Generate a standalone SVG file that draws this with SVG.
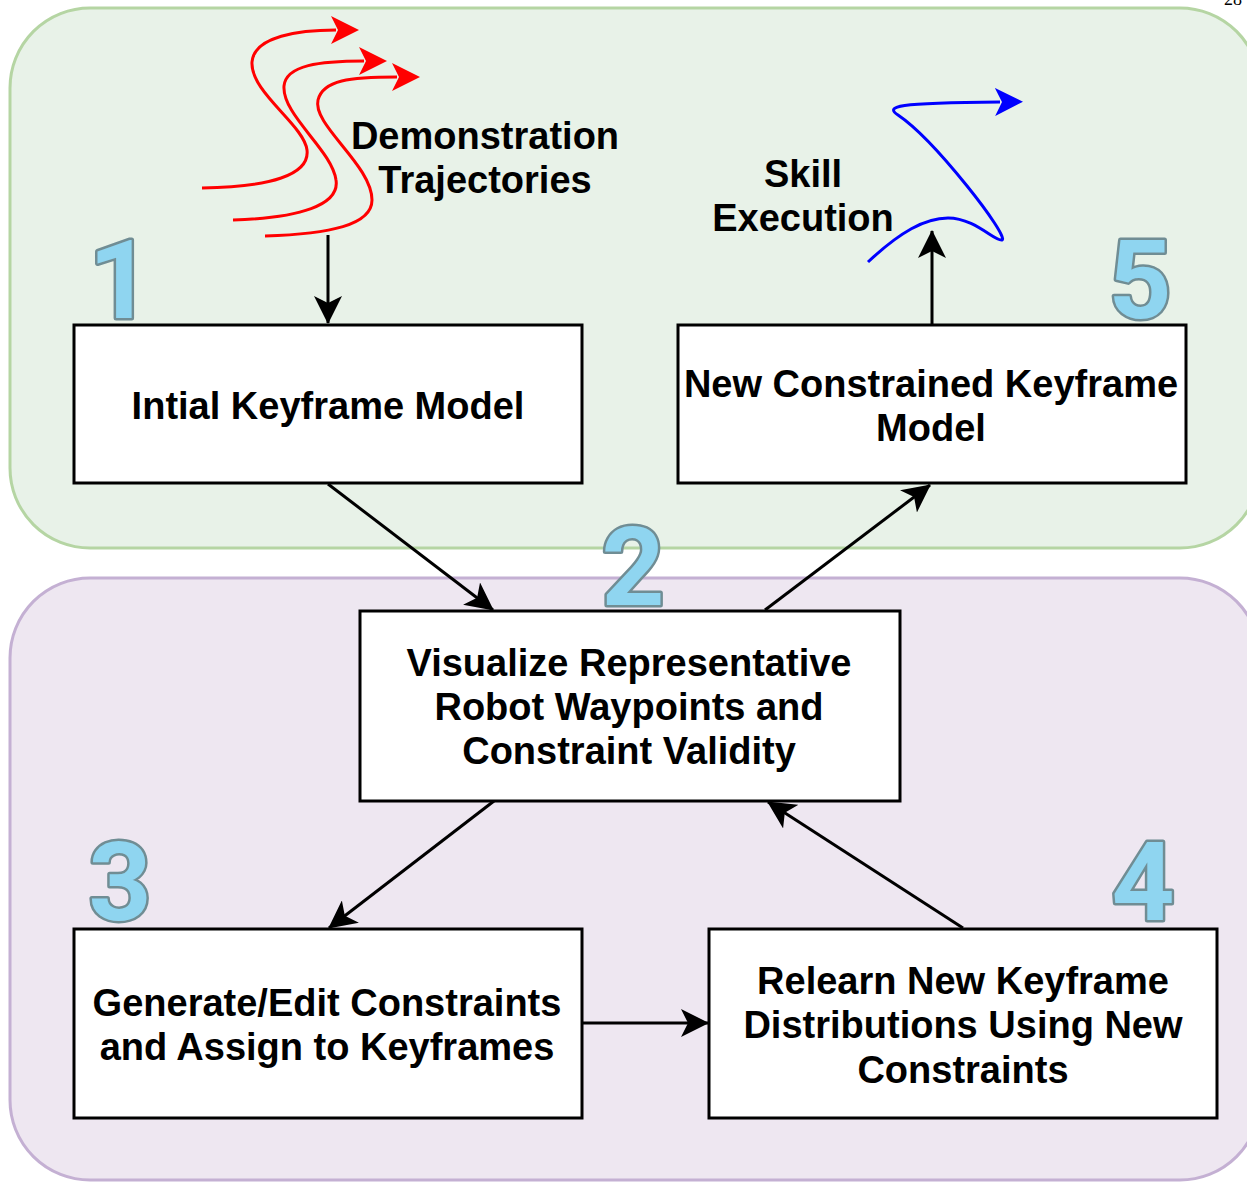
<svg xmlns="http://www.w3.org/2000/svg" width="1247" height="1182" viewBox="0 0 1247 1182">
<defs>
<style>
.box{fill:#fff;stroke:#000;stroke-width:3}
.lbl{font-family:"Liberation Sans",Arial,sans-serif;font-weight:bold;font-size:38px;fill:#000;text-anchor:middle}
.num{font-family:"Roboto","Noto Sans",sans-serif;font-weight:bold;font-size:110px;fill:#8fd5f0;stroke:#708d94;stroke-width:5;stroke-linejoin:round;text-anchor:middle;paint-order:stroke}
.edge{fill:none;stroke:#000;stroke-width:3}
.red{fill:none;stroke:#ff0000;stroke-width:3}
.blue{fill:none;stroke:#0000ff;stroke-width:3}
</style>
<marker id="ab" markerUnits="userSpaceOnUse" viewBox="0 0 28 28" markerWidth="28" markerHeight="28" refX="27" refY="14" orient="auto"><path d="M0,0 L28,14 L0,28 L7,14 Z" fill="#000"/></marker>
<marker id="ar" markerUnits="userSpaceOnUse" viewBox="0 0 28 28" markerWidth="28" markerHeight="28" refX="5" refY="14" orient="auto"><path d="M0,0 L28,14 L0,28 L7,14 Z" fill="#ff0000"/></marker>
<marker id="abl" markerUnits="userSpaceOnUse" viewBox="0 0 28 28" markerWidth="28" markerHeight="28" refX="5" refY="14" orient="auto"><path d="M0,0 L28,14 L0,28 L7,14 Z" fill="#0000ff"/></marker>
</defs>
<rect width="1247" height="1182" fill="#fff"/>
<text x="1224" y="5" font-family="Liberation Serif,serif" font-size="18" fill="#000">28</text>
<g id="container-top"><rect x="10" y="8" width="1250" height="540" rx="80" fill="#e8f2e8" stroke="#b5d5a3" stroke-width="3"/></g>
<g id="container-bottom"><rect x="10" y="578" width="1250" height="602" rx="80" fill="#eee7f1" stroke="#c4b0d3" stroke-width="3"/></g>

<g id="demo-trajectories">
<path class="red" d="M202,188 C270,187 310,175 307,150 C304,125 250,92 252,62 C254,36 300,30 336,30" marker-end="url(#ar)"/>
<path class="red" d="M233,220 C300,218 340,205 336,180 C332,150 282,115 284,86 C286,65 320,61 364,61" marker-end="url(#ar)"/>
<path class="red" d="M265,236 C330,234 372,225 372,200 C372,165 312,125 318,100 C323,80 350,77 397,77" marker-end="url(#ar)"/>
<text class="lbl" x="485" y="149">Demonstration</text>
<text class="lbl" x="485" y="193">Trajectories</text>
</g>

<g id="skill-execution">
<path class="blue" d="M868,262 C900,232 925,218 948,218 C975,218 995,242 1002,240 C1010,237 935,140 898,115 C885,106 895,103 1000,102" marker-end="url(#abl)"/>
<text class="lbl" x="803" y="187">Skill</text>
<text class="lbl" x="803" y="231">Execution</text>
</g>

<g id="connectors">
<line class="edge" x1="328" y1="235" x2="328" y2="323" marker-end="url(#ab)"/>
<line class="edge" x1="328" y1="484" x2="493" y2="610" marker-end="url(#ab)"/>
<line class="edge" x1="765" y1="610" x2="930" y2="485" marker-end="url(#ab)"/>
<line class="edge" x1="932" y1="324" x2="932" y2="231" marker-end="url(#ab)"/>
<line class="edge" x1="494" y1="801" x2="329" y2="928" marker-end="url(#ab)"/>
<line class="edge" x1="582" y1="1023" x2="708" y2="1023" marker-end="url(#ab)"/>
<line class="edge" x1="963" y1="928" x2="768" y2="802" marker-end="url(#ab)"/>
</g>

<g id="node1">
<rect class="box" x="74" y="325" width="508" height="158"/>
<text class="lbl" x="328" y="419">Intial Keyframe Model</text>
</g>
<g id="node5">
<rect class="box" x="678" y="325" width="508" height="158"/>
<text class="lbl" x="931" y="397">New Constrained Keyframe</text>
<text class="lbl" x="931" y="441">Model</text>
</g>
<g id="node2">
<rect class="box" x="360" y="611" width="540" height="190"/>
<text class="lbl" x="629" y="676">Visualize Representative</text>
<text class="lbl" x="629" y="720">Robot Waypoints and</text>
<text class="lbl" x="629" y="764">Constraint Validity</text>
</g>
<g id="node3">
<rect class="box" x="74" y="929" width="508" height="189"/>
<text class="lbl" x="327" y="1016">Generate/Edit Constraints</text>
<text class="lbl" x="327" y="1060">and Assign to Keyframes</text>
</g>
<g id="node4">
<rect class="box" x="709" y="929" width="508" height="189"/>
<text class="lbl" x="963" y="994">Relearn New Keyframe</text>
<text class="lbl" x="963" y="1038">Distributions Using New</text>
<text class="lbl" x="963" y="1083">Constraints</text>
</g>

<g id="numbers">
<text class="num" x="120" y="318">1</text>
<text class="num" x="1140" y="318">5</text>
<text class="num" x="633" y="605">2</text>
<text class="num" x="120" y="920">3</text>
<text class="num" x="1143" y="920">4</text>
</g>
</svg>
